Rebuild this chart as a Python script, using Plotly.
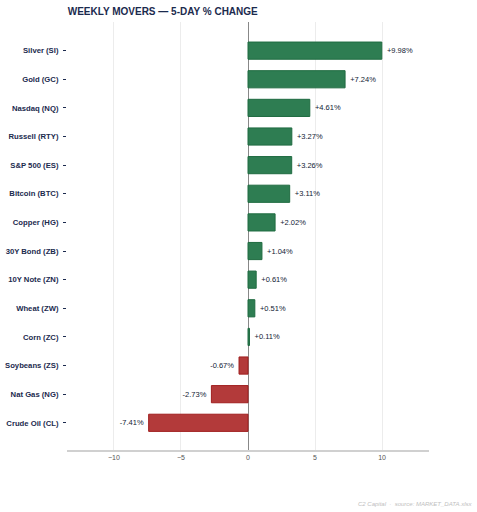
import plotly.graph_objects as go

# data
names = ["Silver (SI)", "Gold (GC)", "Nasdaq (NQ)", "Russell (RTY)", "S&P 500 (ES)",
         "Bitcoin (BTC)", "Copper (HG)", "30Y Bond (ZB)", "10Y Note (ZN)", "Wheat (ZW)",
         "Corn (ZC)", "Soybeans (ZS)", "Nat Gas (NG)", "Crude Oil (CL)"]
changes = [9.98, 7.24, 4.61, 3.27, 3.26, 3.11, 2.02, 1.04, 0.61, 0.51, 0.11, -0.67, -2.73, -7.41]
x_ticks = [-10, -5, 0, 5, 10]

NAVY = "#1b2a4e"
colors = ["#2e7d52" if v >= 0 else "#b33a3a" for v in changes]
lines = ["#1f6b40" if v >= 0 else "#a01f1f" for v in changes]
# small spacer so the labels sit a bit off the bar ends
labels = [f" {v:+.2f}%" if v >= 0 else f"{v:+.2f}% " for v in changes]

fig = go.Figure(go.Bar(
    x=changes, y=names, orientation="h",
    marker=dict(color=colors, line=dict(color=lines, width=1)),
    width=0.6,
    text=labels, textposition="outside",
    textfont=dict(size=7.5, color="#111a33", family="Liberation Sans, Arial"),
    cliponaxis=False,
))

fig.update_layout(
    width=477, height=512,
    margin=dict(l=67, r=48, t=22, b=62, autoexpand=False),
    paper_bgcolor="white", plot_bgcolor="white",
    font=dict(family="Liberation Sans, Arial", color=NAVY),
    title=dict(text="<b>WEEKLY MOVERS — 5-DAY % CHANGE</b>", x=0.142, xanchor="left",
               y=0.985, yanchor="top", font=dict(size=10, color=NAVY)),
    showlegend=False,
    xaxis=dict(range=[-13.5, 13.5], tickvals=x_ticks, showgrid=True, gridcolor="#ececec",
               zeroline=True, zerolinecolor="#888888", zerolinewidth=1.2,
               showline=True, linecolor="#d0d0d0", linewidth=1.5, automargin=False,
               tickfont=dict(size=7, color="#555555")),
    yaxis=dict(categoryorder="array", categoryarray=names, autorange=False, range=[13.95, -1],
               ticks="outside", ticklen=3, tickcolor=NAVY, showgrid=False, automargin=False,
               ticklabelstandoff=3,
               tickfont=dict(size=7.7, color=NAVY, weight="bold")),
)

fig.add_annotation(text="<i>C2 Capital  ·  source: MARKET_DATA.xlsx</i>", xref="paper", yref="paper",
                   x=1.125, y=-0.115, xanchor="right", yanchor="top", showarrow=False,
                   font=dict(size=6, color="#c0c0c0"))

fig.write_html("out.html", config={"displayModeBar": False},
               post_script="document.body.style.margin='0';")
